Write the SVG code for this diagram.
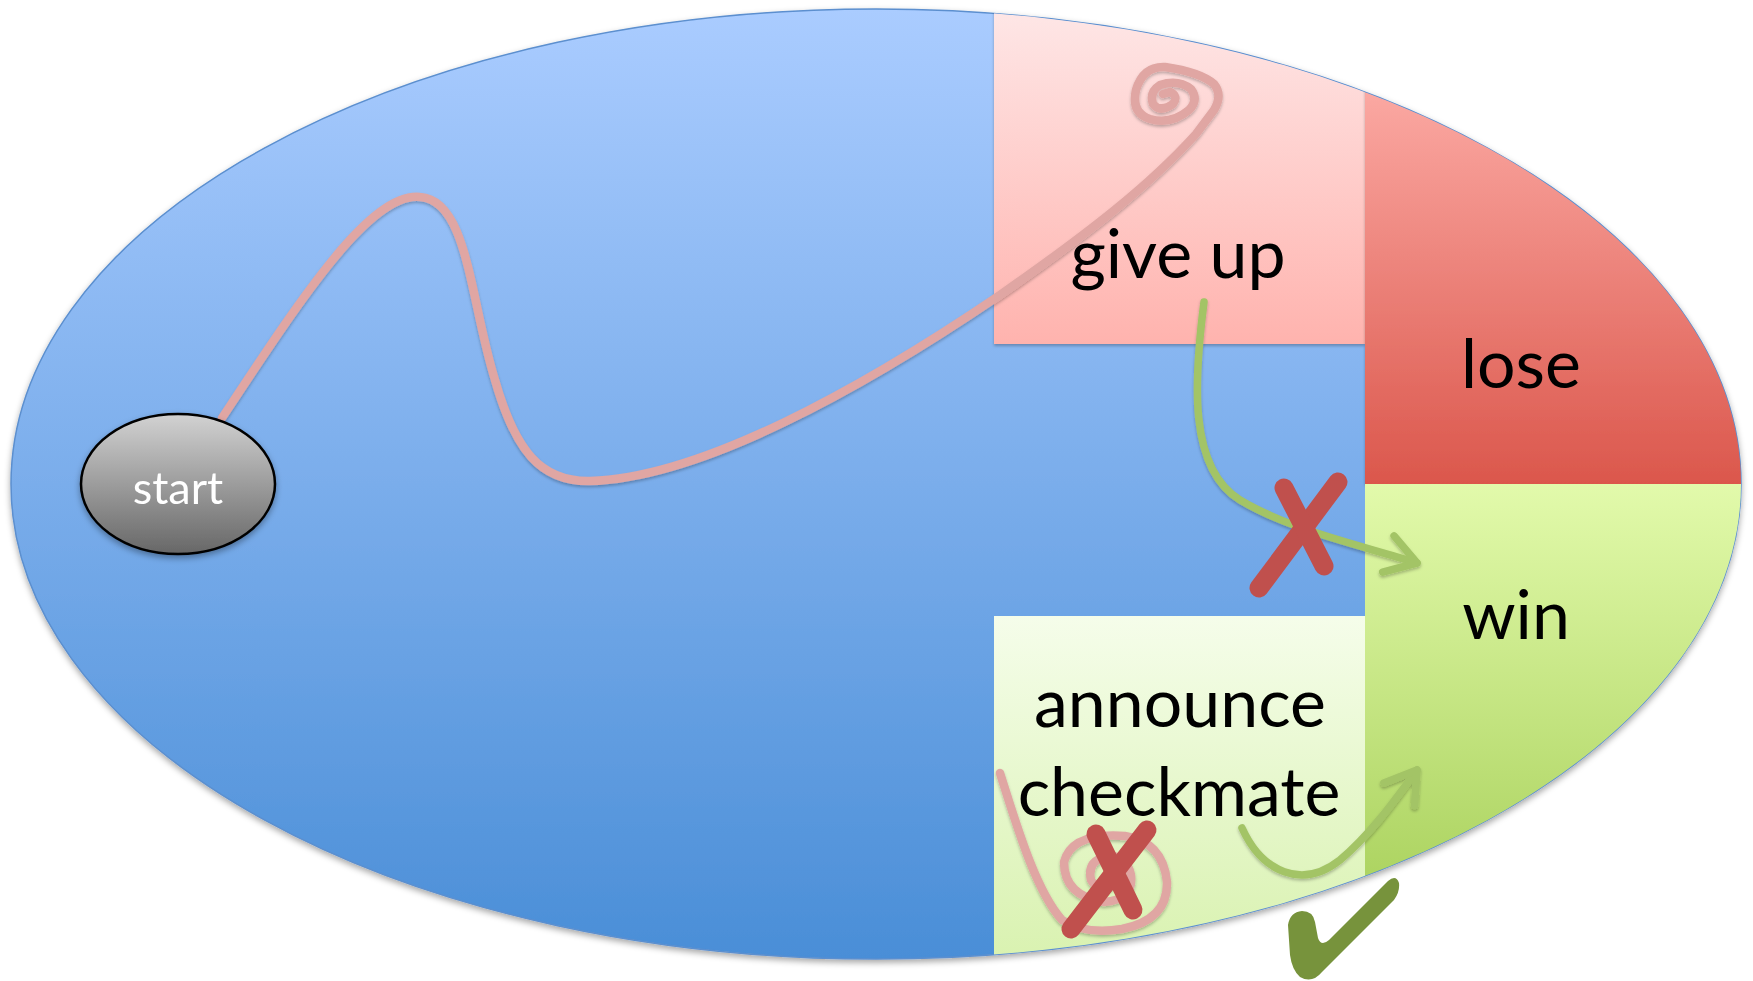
<svg xmlns="http://www.w3.org/2000/svg" width="1753" height="981" viewBox="0 0 1753 981">
  <defs>
    <linearGradient id="gBlue" x1="0" y1="0" x2="0" y2="1">
      <stop offset="0" stop-color="#aaccff"/>
      <stop offset="1" stop-color="#4a8ed7"/>
    </linearGradient>
    <linearGradient id="gGiveUp" x1="0" y1="0" x2="0" y2="1">
      <stop offset="0" stop-color="#fee8e8"/>
      <stop offset="1" stop-color="#ffb3ae"/>
    </linearGradient>
    <linearGradient id="gLose" gradientUnits="userSpaceOnUse" x1="0" y1="92" x2="0" y2="484">
      <stop offset="0" stop-color="#fba8a2"/>
      <stop offset="1" stop-color="#db574c"/>
    </linearGradient>
    <linearGradient id="gWin" x1="0" y1="0" x2="0" y2="1">
      <stop offset="0" stop-color="#e2faab"/>
      <stop offset="1" stop-color="#a2cc52"/>
    </linearGradient>
    <linearGradient id="gAnnounce" x1="0" y1="0" x2="0" y2="1">
      <stop offset="0" stop-color="#f5fdea"/>
      <stop offset="1" stop-color="#d9f2b0"/>
    </linearGradient>
    <linearGradient id="gStart" x1="0" y1="0" x2="0" y2="1">
      <stop offset="0" stop-color="#d2d2d2"/>
      <stop offset="1" stop-color="#676767"/>
    </linearGradient>
    <clipPath id="oval">
      <ellipse cx="876" cy="484" rx="865" ry="475"/>
    </clipPath>
    <filter id="shadow" x="-10%" y="-10%" width="120%" height="130%">
      <feDropShadow dx="0" dy="3" stdDeviation="3" flood-color="#000" flood-opacity="0.35"/>
    </filter>
    <filter id="softShadow" x="-10%" y="-10%" width="120%" height="130%">
      <feDropShadow dx="0" dy="2" stdDeviation="1.5" flood-color="#000" flood-opacity="0.25"/>
    </filter>
    <marker id="chevron" markerUnits="userSpaceOnUse" markerWidth="40" markerHeight="40" refX="0" refY="0" orient="auto" overflow="visible">
      <path d="M -30 -19 L 0 0 L -30 19" fill="none" stroke="#a3c466" stroke-width="7.5" stroke-linecap="round" stroke-linejoin="round"/>
    </marker>
    <style>
      .label { font-family: Lato, "Open Sans", "Liberation Sans", sans-serif; font-size: 68px; fill: #000; text-anchor: middle; }
      .startLabel { font-family: Lato, "Open Sans", "Liberation Sans", sans-serif; font-size: 45px; fill: #fff; text-anchor: middle; }
      .trail { fill: none; stroke: #e0a6a3; stroke-width: 8.5; stroke-linecap: round; stroke-linejoin: round; }
      .move { fill: none; stroke: #a3c466; stroke-width: 7.5; stroke-linecap: round; }
      .cross { fill: none; stroke: #c0504d; stroke-width: 19; stroke-linecap: round; }
    </style>
  </defs>

  <!-- playing field -->
  <g id="field" filter="url(#shadow)">
    <ellipse cx="876" cy="484" rx="865" ry="475" fill="url(#gBlue)" stroke="#5b8fcf" stroke-width="1.5"/>
  </g>

  <g id="give-up" clip-path="url(#oval)">
    <rect x="994" y="0" width="371" height="344" fill="url(#gGiveUp)" filter="url(#softShadow)"/>
    <text class="label" x="1178" y="278">give up</text>
  </g>

  <g id="lose" clip-path="url(#oval)">
    <rect x="1365" y="9" width="380" height="475" fill="url(#gLose)" filter="url(#softShadow)"/>
    <text class="label" x="1521" y="388">lose</text>
  </g>

  <g id="win" clip-path="url(#oval)">
    <rect x="1365" y="484" width="380" height="476" fill="url(#gWin)"/>
    <text class="label" x="1516" y="639">win</text>
  </g>

  <g id="announce-checkmate" clip-path="url(#oval)">
    <rect x="994" y="616" width="371" height="344" fill="url(#gAnnounce)"/>
    <text class="label" x="1180" y="727">announce</text>
    <text class="label" x="1179" y="816">checkmate</text>
  </g>

  <!-- paths taken -->
  <g id="connectors" filter="url(#softShadow)">
    <path class="trail" d="M 222 418 C 300 300, 370 192, 420 197 C 468 200, 470 300, 495 380 C 515 450, 540 482, 590 481 C 700 478, 860 390, 1000 295 C 1090 232, 1150 185, 1196 134 L 1214 110 Q 1223 95 1214 84 Q 1200 72 1165 67 Q 1143 66 1136 90 Q 1131 113 1150 119 Q 1171 125 1189 110 Q 1199 100 1191 89 Q 1178 79 1160 85 Q 1149 92 1153 104 Q 1160 113 1173 104 Q 1179 96 1170 92 L 1163 94"/>
    <path class="trail" d="M 1000 773 C 1015 820, 1035 890, 1062 920 Q 1085 935 1122 929 Q 1168 920 1167 882 Q 1163 842 1125 836 Q 1072 832 1064 862 Q 1064 896 1104 902 Q 1134 900 1131 875 Q 1126 853 1104 857 Q 1087 862 1091 880 Q 1097 891 1110 886"/>
    <path class="move" marker-end="url(#chevron)" d="M 1204 302 C 1194 380, 1188 468, 1240 500 C 1290 530, 1360 545, 1417 563"/>
    <path class="move" marker-end="url(#chevron)" d="M 1242 828 C 1262 872, 1302 890, 1340 860 C 1370 835, 1395 800, 1417 770"/>
  </g>

  <!-- verdict marks -->
  <g id="marks">
    <path class="cross" d="M 1259 588 L 1338 482"/>
    <path class="cross" d="M 1284 488 L 1324 566"/>
    <path class="cross" d="M 1071 929 L 1147 830"/>
    <path class="cross" d="M 1096 834 L 1133 910"/>
    <path fill="#77933c" d="M 1288 925 Q 1290 912 1302 911 Q 1313 911 1315 922 L 1318 938 Q 1321 947 1329 940 L 1388 881 Q 1396 874 1399 883 Q 1400 892 1394 900 L 1322 972 Q 1312 984 1300 977 Q 1292 970 1290 955 Z"/>
  </g>

  <g id="start" filter="url(#shadow)">
    <ellipse cx="178" cy="484" rx="97" ry="70" fill="url(#gStart)" stroke="#000" stroke-width="2.5"/>
    <text class="startLabel" x="178" y="504">start</text>
  </g>
</svg>
